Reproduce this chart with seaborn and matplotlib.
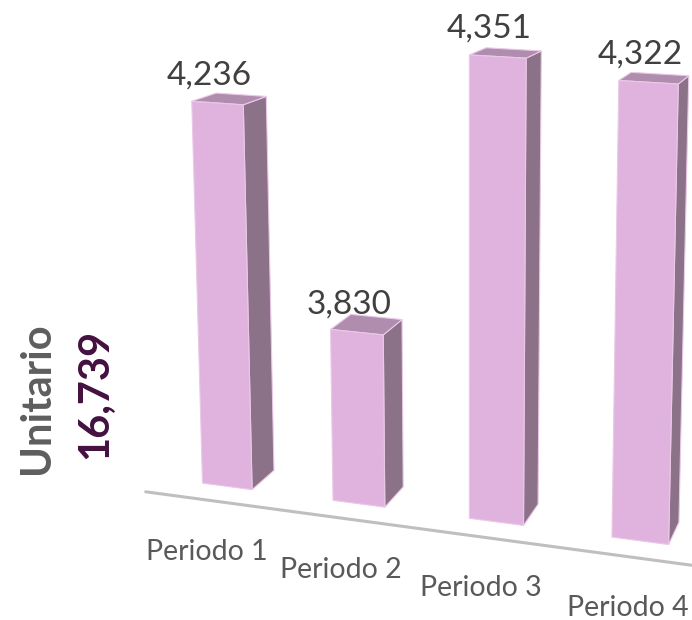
import numpy as np
import matplotlib
matplotlib.use("Agg")
import matplotlib.pyplot as plt
import matplotlib.transforms as mtransforms
from matplotlib.patches import Polygon
import seaborn as sns

# data
periodos = ["Periodo 1", "Periodo 2", "Periodo 3", "Periodo 4"]
unitario = [4236, 3830, 4351, 4322]
axis_title = "Unitario"

Y_MIN = 3500          # value axis minimum (Excel auto)
BAR_W = 0.385         # column width in category units
DEPTH = 0.385         # column depth, same units
FLOOR_Z = -0.27       # front edge of the floor

# colours
FRONT = "#DFB3DE"
SIDE = "#8C7289"
TOP = "#B08CAE"
EDGE = "#EAC8E8"

# perspective view of the chart (pixels, y down)
ORIGIN = (227.2, 486.4)
VP_X = (-5777.0, -305.0)
VP_Y = (470.0, 10000.0)
VP_Z = (1000.0, -170.0)
A, B, G = -0.02145, -5.263e-5, 0.078


def project(x, v, z=0.0):
    """Map (category, value, depth) to pixel coordinates."""
    x, u, z = np.broadcast_arrays(np.asarray(x, float),
                                  np.asarray(v, float) - Y_MIN,
                                  np.asarray(z, float))
    w = 1 + A * x + B * u + G * z
    px = (A * VP_X[0] * x + B * VP_Y[0] * u + G * VP_Z[0] * z + ORIGIN[0]) / w
    py = (A * VP_X[1] * x + B * VP_Y[1] * u + G * VP_Z[1] * z + ORIGIN[1]) / w
    return np.column_stack([px, py])


class Perspective(mtransforms.Transform):
    input_dims = output_dims = 2
    is_separable = False
    has_inverse = False

    def transform_non_affine(self, values):
        xy = np.asarray(values, float).reshape(-1, 2)
        return project(xy[:, 0], xy[:, 1])


sns.set_style("white")
plt.rcParams["font.family"] = ["Lato", "DejaVu Sans"]

fig = plt.figure(figsize=(6.92, 6.20), dpi=100)
ax = fig.add_axes([0, 0, 1, 1])

sns.barplot(x=periodos, y=unitario, color=FRONT, saturation=1,
            width=BAR_W, errorbar=None, ax=ax)

persp = Perspective()
for p, v in zip(ax.patches, unitario):
    p.set_y(Y_MIN)
    p.set_height(v - Y_MIN)
    p.set_transform(persp + ax.transData)
    p.set_edgecolor(EDGE)
    p.set_linewidth(0.8)
    p.set_zorder(3)

    x0, x1 = p.get_x(), p.get_x() + p.get_width()
    side = project([x1, x1, x1, x1], [Y_MIN, v, v, Y_MIN],
                   [0, 0, DEPTH, DEPTH])
    top = project([x0, x1, x1, x0], [v, v, v, v], [0, 0, DEPTH, DEPTH])
    ax.add_patch(Polygon(side, closed=True, facecolor=SIDE,
                         edgecolor=EDGE, lw=0.8, zorder=2))
    ax.add_patch(Polygon(top, closed=True, facecolor=TOP,
                         edgecolor=EDGE, lw=0.8, zorder=2))

# floor front edge
floor = project([-0.5, 3.5], [Y_MIN, Y_MIN], FLOOR_Z)
ax.plot(floor[:, 0], floor[:, 1], color="#BFBFBF", lw=2.2, zorder=1)

# value labels
for i, v in enumerate(unitario):
    px, py = project(i, v)[0]
    ax.annotate(f"{v:,}", xy=(px, py), xytext=(-8, 28),
                textcoords="offset pixels", ha="center", va="center",
                fontsize=24, color="#404040")

# category labels
for i, name in enumerate(periodos):
    px, py = project(i, Y_MIN, FLOOR_Z)[0]
    ax.annotate(name, xy=(px, py), xytext=(-4, -51),
                textcoords="offset pixels", ha="center", va="center",
                fontsize=20.5, color="#595959")

ax.set_xlim(0, 692)
ax.set_ylim(620, 0)
ax.axis("off")

fig.text(37.5 / 692, 1 - 398 / 620, axis_title, rotation=90,
         ha="center", va="center", fontsize=30, fontweight="bold",
         color="#5E5E5E")
fig.text(95 / 692, 1 - 394 / 620, f"{sum(unitario):,}", rotation=90,
         ha="center", va="center", fontsize=30, fontweight="bold",
         color="#43103F")

fig.savefig("out.png", dpi=100)
